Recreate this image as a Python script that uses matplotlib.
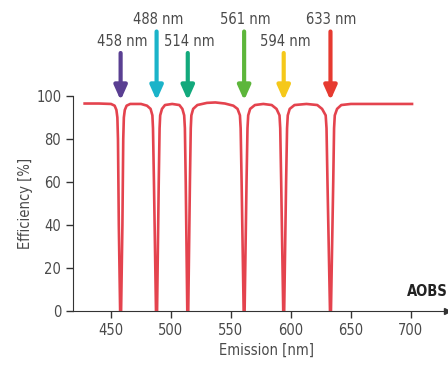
import matplotlib.pyplot as plt

# laser lines
lines_nm = [458, 488, 514, 561, 594, 633]
line_labels = ["458 nm", "488 nm", "514 nm", "561 nm", "594 nm", "633 nm"]
line_colors = ["#5a3f92", "#1bb3c9", "#13a97c", "#5db63b", "#f5c81a", "#e63a30"]
arrow_tops = [120, 130, 120, 130, 120, 130]

# efficiency curve
wl = [428, 440, 450, 453, 454.5, 455.3, 455.8, 456.5, 457.6, 458.4, 459.5, 460.2, 460.7, 461.5, 463, 466,
      475, 480, 483, 484.5, 485, 485.8, 487.5, 488.4, 489.8, 490.5, 491, 492.5, 495,
      501, 507, 509.5, 511, 511.6, 512.3, 513.6, 514.4, 515.8, 516.5, 517, 518.5, 522,
      530, 537, 545, 552, 555.5, 557.5, 558.1, 558.9, 560.6, 561.4, 563, 563.8, 564.4, 566, 570,
      577, 584, 588, 590.5, 591.1, 591.9, 593.6, 594.4, 596, 596.8, 597.4, 599, 603,
      613, 622, 626, 629, 629.7, 630.5, 632.6, 633.4, 635.3, 636, 636.6, 638.5, 642,
      650, 680, 701]
eff = [96.5, 96.5, 96.3, 95.5, 93.5, 90, 80, 40, 0, 0, 40, 80, 90, 93.5, 95.5, 96.3,
       96.3, 95.5, 94, 91, 85, 60, 0, 0, 60, 85, 91, 94, 95.8,
       96.3, 95.8, 94, 91, 85, 60, 0, 0, 60, 85, 91, 94, 95.8,
       96.8, 97, 96.5, 95.5, 94, 91, 85, 60, 0, 0, 60, 85, 91, 94, 95.8,
       96.3, 95.8, 94, 91, 85, 60, 0, 0, 60, 85, 91, 94, 95.8,
       96.3, 95.8, 94, 91, 85, 60, 0, 0, 60, 85, 91, 94, 95.8,
       96.3, 96.3, 96.3]

x_ticks = [450, 500, 550, 600, 650, 700]
y_ticks = [0, 20, 40, 60, 80, 100]

plt.rcParams['font.family'] = ['DejaVu Sans']
plt.rcParams['font.stretch'] = 'condensed'

txt = "#4a4a4a"
fig = plt.figure(figsize=(4.48, 3.65), dpi=100)
ax = fig.add_axes([73/448, 1-311/365, 1-73/448, (311-96)/365])

ax.plot(wl, eff, color="#e4434e", lw=1.9, solid_joinstyle="round")

for x, lab, c, top in zip(lines_nm, line_labels, line_colors, arrow_tops):
    ax.annotate("", xy=(x, 98), xytext=(x, top), annotation_clip=False,
                arrowprops=dict(arrowstyle="-|>,head_width=0.38,head_length=0.85", color=c, lw=3.0,
                                shrinkA=0, shrinkB=0))
    ax.text(x + 1, top + 2, lab, ha="center", va="bottom", fontsize=10.5, color=txt, clip_on=False)

ax.set_xlim(418.3, 731)
ax.set_ylim(0, 100)
ax.set_xticks(x_ticks)
ax.set_yticks(y_ticks)
ax.spines['top'].set_visible(False)
ax.spines['right'].set_visible(False)
ax.spines['left'].set_color("#333333")
ax.spines['bottom'].set_color("#333333")
ax.tick_params(colors="#333333", labelcolor=txt, labelsize=10.5, length=5, width=1)
ax.plot([730], [0], marker=">", color="#333333", markersize=5, clip_on=False)

ax.text(697, 9, "AOBS", fontsize=10.5, fontweight="bold", color="#222222", va="center", clip_on=False)
ax.set_xlabel("Emission [nm]", fontsize=10.5, color=txt)
ax.xaxis.set_label_coords((580-418.3)/(731-418.3), -0.15)
ax.set_ylabel("Efficiency [%]", fontsize=10.5, color=txt)
ax.yaxis.set_label_coords(-40/375, 0.5)

fig.savefig("out.png", dpi=100)
